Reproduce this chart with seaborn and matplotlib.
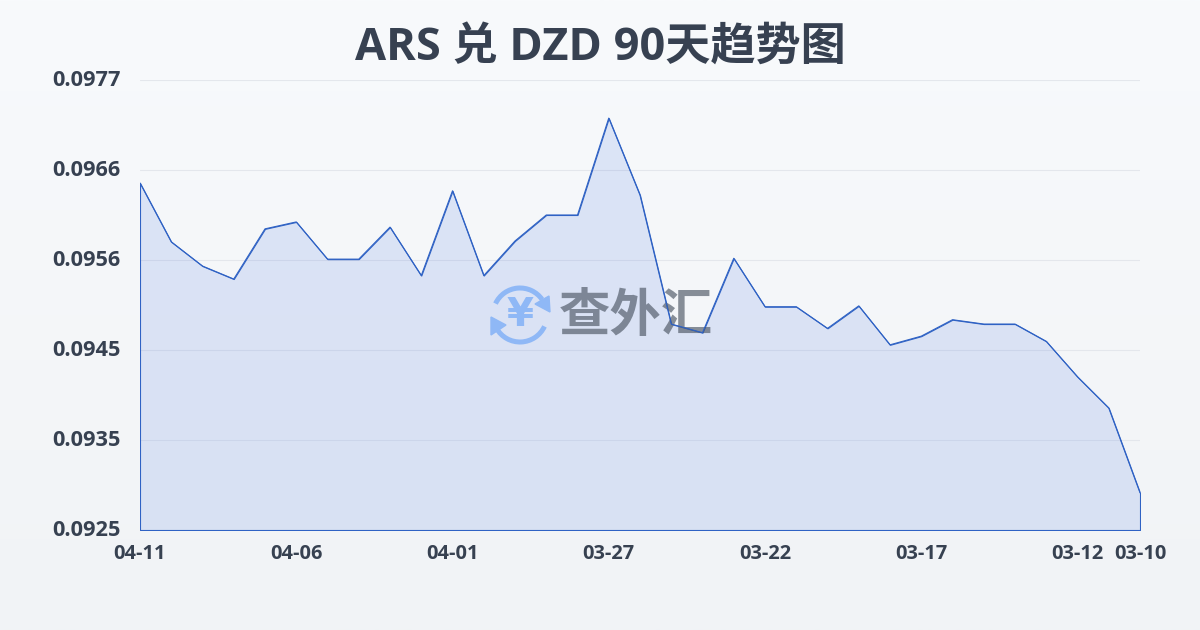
import numpy as np
import pandas as pd
import seaborn as sns
import matplotlib
matplotlib.use("Agg")
import matplotlib.pyplot as plt
from matplotlib.patches import Arc, Polygon
from matplotlib.transforms import ScaledTranslation

dates = ["04-11","04-10","04-09","04-08","04-07","04-06","04-05","04-04","04-03","04-02","04-01",
         "03-31","03-30","03-29","03-28","03-27","03-26","03-25","03-24","03-23","03-22","03-21",
         "03-20","03-19","03-18","03-17","03-16","03-15","03-14","03-13","03-12","03-11","03-10"]
rates = [0.09651,0.09583,0.09555,0.09540,0.09598,0.09606,0.09563,0.09563,0.09600,0.09544,0.09642,
         0.09544,0.09584,0.09614,0.09614,0.09726,0.09637,0.09488,0.09478,0.09564,0.09508,0.09508,
         0.09483,0.09509,0.09464,0.09474,0.09493,0.09488,0.09488,0.09468,0.09427,0.09391,0.09293]
y_ticks = [0.0925,0.09354,0.09458,0.09562,0.09666,0.0977]
y_labels = ["0.0925","0.0935","0.0945","0.0956","0.0966","0.0977"]
x_labels = ["04-11","04-06","04-01","03-27","03-22","03-17","03-12","03-10"]
title = "ARS 兑 DZD 90天趋势图"
brand = "查外汇"

sns.set_theme(style="white")
fonts = ['Open Sans', 'Noto Sans CJK SC', 'DejaVu Sans']
plt.rcParams['font.family'] = fonts
W, H = 1200, 630
fig = plt.figure(figsize=(W/100, H/100), dpi=100)

# background gradient
bg = fig.add_axes([0, 0, 1, 1], zorder=0)
bg.imshow(np.linspace(0, 1, 256)[:, None], aspect='auto', extent=(0, 1, 0, 1),
          cmap=matplotlib.colors.LinearSegmentedColormap.from_list("bg", ["#f8fafc", "#f1f3f6"]))
bg.axis('off')

ax = fig.add_axes([140/W, 1-530/H, 1000/W, 450/H], zorder=1)
ax.patch.set_alpha(0)
df = pd.DataFrame({"date": dates, "rate": rates, "i": np.arange(len(dates))})

ymin, ymax = y_ticks[0], y_ticks[-1]
ax.set_xlim(0, len(dates)-1)
ax.set_ylim(ymin, ymax)
ax.set_yticks(y_ticks)
ax.set_yticklabels(y_labels, fontsize=15.7, fontweight='bold', color="#374151")
pos = [dates.index(d) for d in x_labels]
ax.set_xticks(pos)
ax.set_xticklabels(x_labels, fontsize=14.4, fontweight='bold', color="#374151")
ax.tick_params(axis='y', length=0, pad=14)
ax.tick_params(axis='x', length=10, width=0.8, color="#e6e8ec", pad=0)
shift = ScaledTranslation(0, 2/100, fig.dpi_scale_trans)
for lab in ax.get_yticklabels():
    lab.set_transform(lab.get_transform() + shift)
ax.grid(axis='y', color="#e4e7ec", lw=0.8, zorder=0)
ax.set_axisbelow(True)
for s in ax.spines.values():
    s.set_visible(False)

ax.fill_between(df["i"], df["rate"], ymin, facecolor=(60/255, 110/255, 225/255, 0.14),
                edgecolor="#2f62c4", lw=0.8, zorder=2)
ax.set_xlabel("")
ax.set_ylabel("")

fig.text(600/W, 1-48/H, title, ha='center', va='center', fontsize=32.5, fontweight='bold', color="#374151")

# watermark (figure overlay in pixel coordinates)
wm = fig.add_axes([0, 0, 1, 1], zorder=3)
wm.set_xlim(0, W); wm.set_ylim(H, 0); wm.axis('off'); wm.patch.set_alpha(0)
lc = "#8fb8f6"
cx, cy = 520, 315
wm.add_patch(Arc((cx, cy), 54, 54, theta1=205, theta2=325, color=lc, lw=3.6))
wm.add_patch(Arc((cx, cy), 54, 54, theta1=25, theta2=150, color=lc, lw=3.6))
wm.add_patch(Polygon([[549, 296], [550, 312], [535, 304]], closed=True, color=lc))
wm.add_patch(Polygon([[491, 317], [506, 325], [491, 335]], closed=True, color=lc))
wm.text(cx, cy, "¥", ha='center', va='center', fontsize=28, fontweight='bold', color=lc,
        family=['DejaVu Sans'])
wm.text(636, 315, brand, ha='center', va='center', fontsize=37, fontweight='bold',
        color="#4b5563", alpha=0.65, family=['Noto Sans CJK SC'])

# the curve sits above the watermark
line = fig.add_axes(ax.get_position(), zorder=4)
line.patch.set_alpha(0)
sns.lineplot(data=df, x="i", y="rate", ax=line, color="#2f62c4", lw=0.8)
line.set_xlim(ax.get_xlim()); line.set_ylim(ax.get_ylim())
line.axis('off')

fig.savefig("out.png", dpi=100)
